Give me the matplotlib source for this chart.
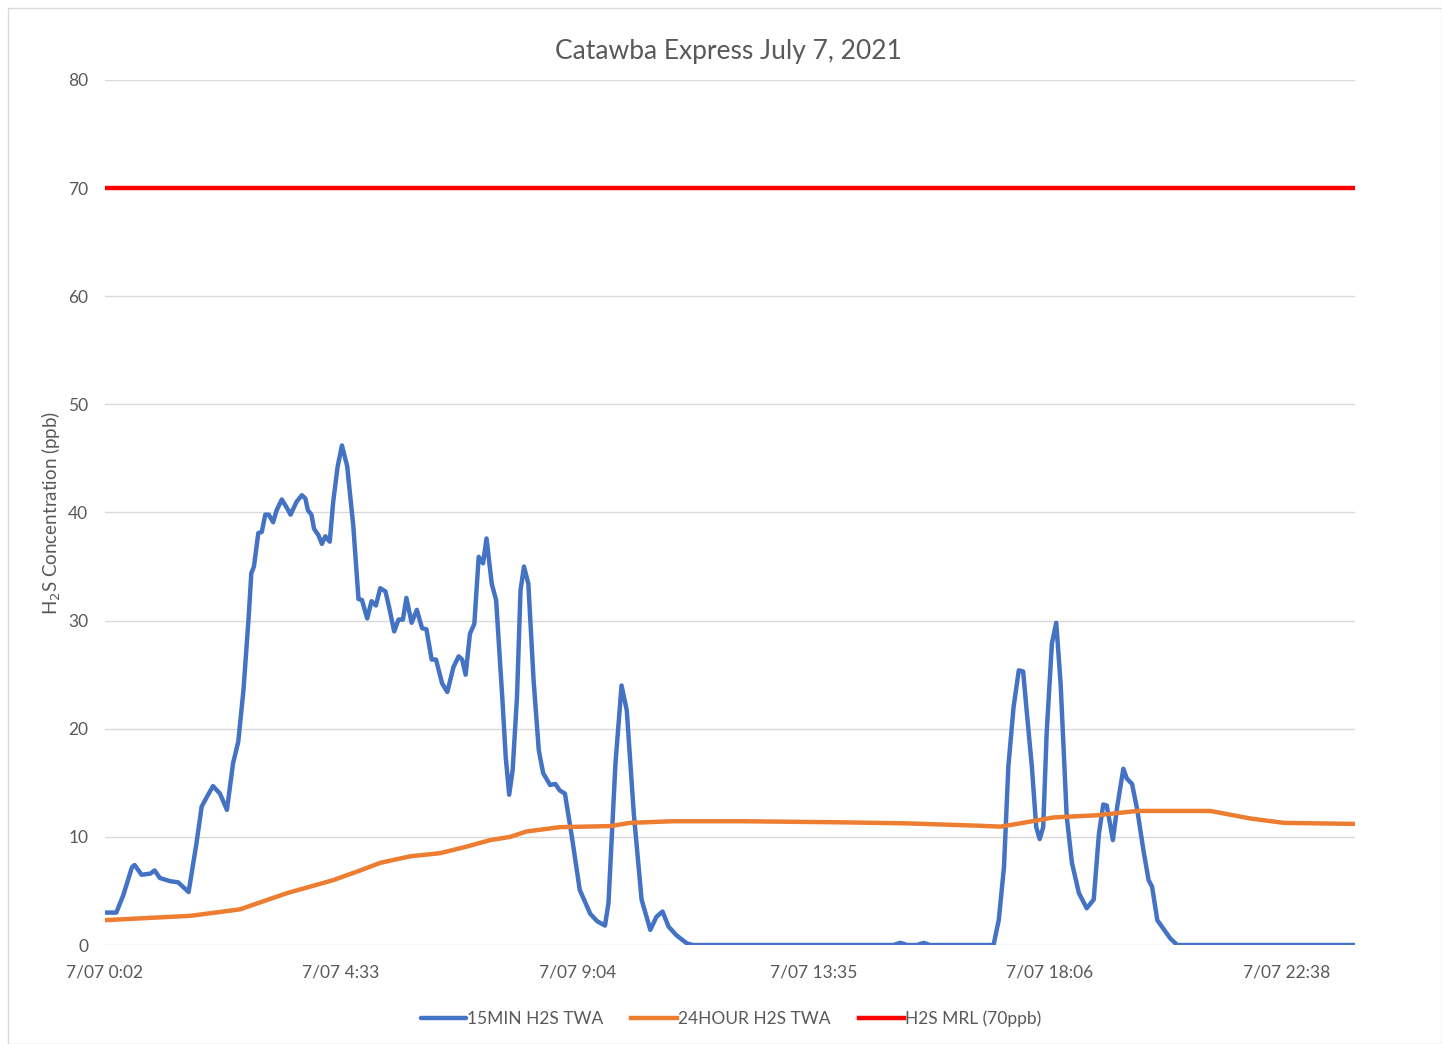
import matplotlib
matplotlib.use('Agg')
import matplotlib.pyplot as plt
from matplotlib.patches import Rectangle

plt.rcParams['font.family'] = ['Lato', 'DejaVu Sans']

# minutes after midnight on 7/07, ppb
blue_min = [2, 15, 23, 33, 36, 44, 54, 59, 65, 77, 86, 98, 107, 113, 119, 126, 134, 142,
            149, 155, 161, 167, 170, 173, 178, 182, 186, 190, 195, 199, 205, 211, 215, 222,
            228, 232, 235, 239, 242, 247, 251, 255, 260, 264, 269, 274, 280, 287, 293, 297,
            303, 308, 313, 318, 324, 328, 334, 339, 344, 348, 354, 360, 366, 371, 377, 382,
            389, 395, 402, 408, 412, 416, 421, 426, 431, 436, 440, 446, 451, 458, 462, 466,
            470, 475, 479, 483, 488, 494, 500, 505, 513, 519, 524, 530, 538, 547, 559, 567,
            576, 580, 588, 595, 601, 609, 618, 628, 635, 642, 649, 658, 670, 677,
            907, 915, 923, 934, 942, 949,
            1022, 1028, 1034, 1039, 1045, 1051, 1056, 1060, 1066, 1071, 1075, 1079, 1083,
            1089, 1094, 1099, 1106, 1112, 1120, 1129, 1137, 1143, 1148, 1152, 1159, 1164,
            1171, 1175, 1181, 1187, 1194, 1200, 1204, 1210, 1217, 1225, 1233, 1437]
blue_ppb = [3.0, 3.0, 4.6, 7.2, 7.4, 6.5, 6.6, 6.9, 6.2, 5.9, 5.8, 4.9, 9.4, 12.8, 13.7, 14.7,
            14.0, 12.5, 16.8, 18.8, 23.6, 30.4, 34.4, 35.0, 38.1, 38.2, 39.8, 39.8, 39.1,
            40.2, 41.2, 40.4, 39.8, 41.0, 41.6, 41.3, 40.2, 39.8, 38.5, 37.9, 37.1, 37.8,
            37.3, 41.0, 44.2, 46.2, 44.3, 38.8, 32.0, 31.9, 30.2, 31.8, 31.4, 33.0, 32.7,
            31.3, 29.0, 30.1, 30.1, 32.1, 29.8, 31.0, 29.3, 29.2, 26.4, 26.4, 24.2, 23.4,
            25.7, 26.7, 26.4, 25.0, 28.8, 29.7, 35.9, 35.3, 37.6, 33.4, 31.9, 23.0, 17.4,
            13.9, 16.2, 23.0, 32.8, 35.0, 33.4, 24.5, 18.0, 15.9, 14.8, 14.9, 14.3, 14.0,
            10.0, 5.1, 2.9, 2.2, 1.8, 3.9, 16.8, 24.0, 21.7, 12.2, 4.2, 1.4, 2.6, 3.1, 1.7,
            0.9, 0.15, 0.0,
            0.0, 0.2, 0.0, 0.0, 0.2, 0.0,
            0.0, 2.3, 7.2, 16.5, 22.0, 25.4, 25.3, 21.7, 16.5, 10.9, 9.8, 10.9, 19.6, 27.9,
            29.8, 24.2, 11.9, 7.6, 4.8, 3.4, 4.2, 10.3, 13.0, 12.9, 9.7, 12.8, 16.3, 15.4,
            14.9, 12.5, 8.8, 6.0, 5.4, 2.3, 1.5, 0.6, 0.0, 0.0]

orange_min = [2, 100, 157, 211, 264, 295, 318, 352, 387, 417, 444, 467, 486, 524, 582, 605,
              655, 731, 846, 923, 999, 1030, 1056, 1091, 1141, 1187, 1271, 1317, 1355, 1437]
orange_ppb = [2.3, 2.7, 3.3, 4.8, 6.0, 6.9, 7.6, 8.2, 8.5, 9.1, 9.7, 10.0, 10.5, 10.9, 11.0,
              11.3, 11.45, 11.45, 11.35, 11.25, 11.05, 10.95, 11.3, 11.8, 12.0, 12.4, 12.4,
              11.7, 11.3, 11.2]

mrl_min = [2, 1437]
mrl_ppb = [70, 70]

tick_min = [2, 273, 544, 815, 1086, 1358]
tick_labels = ['7/07 0:02', '7/07 4:33', '7/07 9:04', '7/07 13:35', '7/07 18:06', '7/07 22:38']

fig = plt.figure(figsize=(14.42, 10.44), dpi=100)
ax = fig.add_axes([0.0728, 0.0948, 0.8669, 0.8286])

ax.plot(blue_min, blue_ppb, color='#4472C4', lw=3.2, label='15MIN H2S TWA',
        solid_joinstyle='round', solid_capstyle='round')
ax.plot(orange_min, orange_ppb, color='#ED7D31', lw=3.2, label='24HOUR H2S TWA',
        solid_joinstyle='round')
ax.plot(mrl_min, mrl_ppb, color='#FF0000', lw=3.2, label='H2S MRL (70ppb)')

ax.set_xlim(2, 1437)
ax.set_ylim(0, 80)
ax.set_yticks(range(0, 81, 10))
ax.set_xticks(tick_min)
ax.set_xticklabels(tick_labels)
ax.tick_params(length=0, labelsize=12.5, labelcolor='#595959')
ax.tick_params(axis='x', pad=14)
ax.tick_params(axis='y', pad=12)
ax.grid(axis='y', color='#d9d9d9', lw=1)
ax.set_axisbelow(True)
for s in ax.spines.values():
    s.set_visible(False)

ax.set_ylabel('H$_2$S Concentration (ppb)', fontsize=13.5, color='#595959', labelpad=4)
fig.text(0.505, 0.951, 'Catawba Express July 7, 2021', ha='center', va='center',
         fontsize=19, color='#595959')

fig.legend(loc='center', bbox_to_anchor=(0.507, 0.024), ncol=3, frameon=False,
           fontsize=12.5, handlelength=2.6, handletextpad=0.1, columnspacing=1.6,
           labelcolor='#595959')

fig.patches.append(Rectangle((0.0055, 0.0), 0.9945, 0.992, transform=fig.transFigure,
                             fill=False, edgecolor='#d9d9d9', lw=1))

fig.savefig('out.png', dpi=100)
